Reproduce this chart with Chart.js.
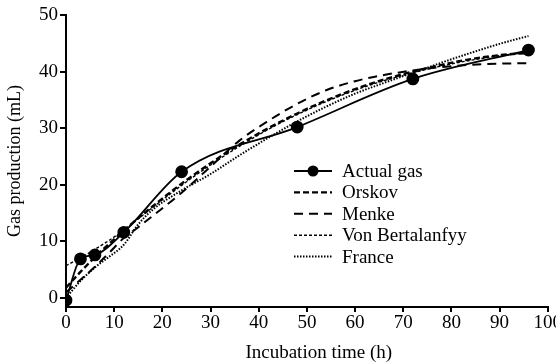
<!DOCTYPE html>
<html>
<head>
<meta charset="utf-8">
<script src="https://cdn.jsdelivr.net/npm/chart.js@4.4.1/dist/chart.umd.min.js"></script>
<style>
  html, body { margin: 0; padding: 0; background: #fff; overflow: hidden; }
  #wrap { width: 556px; height: 364px; overflow: hidden; }
</style>
</head>
<body>
<div id="wrap"><canvas id="gasChart" width="562" height="364"></canvas></div>
<script>
// measured gas production
const actualTime = [0, 3, 6, 12, 24, 48, 72, 96];
const actualGas = [-0.4, 6.9, 7.6, 11.6, 22.3, 30.2, 38.7, 43.8];

// fitted model curves
const modelTime = [0, 3, 6, 9, 12, 15, 18, 24, 30, 36, 42, 48, 54, 60, 66, 72, 78, 84, 90, 96];
const orskov = [1.8, 4.6, 7.2, 9.6, 11.9, 14.1, 16.2, 20.2, 23.8, 27.1, 30.0, 32.6, 34.9, 36.9, 38.6, 40.0, 41.2, 42.2, 42.9, 43.3];
const menke = [1.0, 3.2, 5.5, 8.0, 10.6, 12.5, 14.5, 18.6, 23.2, 27.8, 31.3, 34.3, 36.7, 38.3, 39.4, 40.2, 40.8, 41.2, 41.4, 41.5];
const vonBertalanffy = [5.7, 7.1, 8.6, 10.2, 12.0, 14.0, 16.0, 19.9, 23.5, 26.8, 29.8, 32.4, 34.7, 36.7, 38.4, 39.8, 41.0, 42.0, 42.8, 43.4];
const france = [0.0, 3.0, 5.4, 7.3, 9.4, 13.0, 15.6, 19.0, 21.9, 25.2, 28.3, 31.2, 33.8, 36.1, 38.0, 39.8, 41.6, 43.3, 44.9, 46.3];

const xTicks = [0, 10, 20, 30, 40, 50, 60, 70, 80, 90, 100];
const yTicks = [0, 10, 20, 30, 40, 50];

const serif = "'Liberation Serif', 'DejaVu Serif', serif";

function pairs(xs, ys) {
  return xs.map((x, i) => ({ x: x, y: ys[i] }));
}

function modelSet(label, values, dash, width) {
  return {
    label: label,
    data: pairs(modelTime, values),
    borderColor: '#000',
    borderWidth: width,
    borderDash: dash,
    pointRadius: 0,
    fill: false,
    cubicInterpolationMode: 'monotone'
  };
}

// legend drawn inside the plot, right of centre
const innerLegend = {
  id: 'innerLegend',
  afterDraw(chart) {
    const ctx = chart.ctx;
    const x0 = 294, x1 = 332, tx = 342;
    let y = 171;
    chart.data.datasets.forEach(ds => {
      ctx.save();
      ctx.strokeStyle = '#000';
      ctx.lineWidth = ds.borderWidth;
      ctx.setLineDash(ds.borderDash || []);
      ctx.beginPath();
      ctx.moveTo(x0, y);
      ctx.lineTo(x1, y);
      ctx.stroke();
      if (ds.pointRadius > 0) {
        ctx.setLineDash([]);
        ctx.fillStyle = '#000';
        ctx.beginPath();
        ctx.arc((x0 + x1) / 2, y, ds.pointRadius, 0, Math.PI * 2);
        ctx.fill();
      }
      ctx.fillStyle = '#000';
      ctx.font = '19px ' + serif;
      ctx.textBaseline = 'middle';
      ctx.fillText(ds.label, tx, y + 1);
      ctx.restore();
      y += 21.4;
    });
  }
};

new Chart(document.getElementById('gasChart'), {
  type: 'line',
  data: {
    datasets: [
      {
        label: 'Actual gas',
        data: pairs(actualTime, actualGas),
        borderColor: '#000',
        backgroundColor: '#000',
        borderWidth: 1.8,
        pointRadius: 5.5,
        pointHoverRadius: 5.5,
        cubicInterpolationMode: 'monotone',
        fill: false
      },
      modelSet('Orskov', orskov, [6, 3], 2.4),
      modelSet('Menke', menke, [9, 6], 2),
      modelSet('Von Bertalanfyy', vonBertalanffy, [3, 2], 1.4),
      modelSet('France', france, [1.5, 1.5], 2)
    ]
  },
  options: {
    responsive: false,
    animation: false,
    layout: { padding: { top: 15, right: 0, left: 0, bottom: 0 } },
    plugins: {
      legend: { display: false },
      tooltip: { enabled: false }
    },
    scales: {
      x: {
        type: 'linear',
        min: 0,
        max: 100,
        afterBuildTicks: axis => { axis.ticks = xTicks.map(v => ({ value: v })); },
        afterFit: axis => { axis.height = 57; },
        border: { display: true, color: '#000', width: 2 },
        grid: { drawOnChartArea: false, drawTicks: true, tickLength: 5, color: '#000', lineWidth: 2 },
        ticks: { color: '#000', font: { family: serif, size: 19 }, padding: 0, maxRotation: 0, autoSkip: false },
        title: { display: true, text: '     Incubation time (h)', color: '#000', font: { family: serif, size: 19 }, padding: { top: 0, bottom: 0 } }
      },
      y: {
        min: -1.6,
        max: 50,
        afterBuildTicks: axis => { axis.ticks = yTicks.map(v => ({ value: v })); },
        afterFit: axis => { axis.width = 66; },
        border: { display: true, color: '#000', width: 2 },
        grid: { drawOnChartArea: false, drawTicks: true, tickLength: 6, color: '#000', lineWidth: 2 },
        ticks: { color: '#000', font: { family: serif, size: 19 }, padding: 2 },
        title: { display: true, text: 'Gas production (mL)', color: '#000', font: { family: serif, size: 18 }, padding: { top: 4, bottom: 0 } }
      }
    }
  },
  plugins: [innerLegend]
});
</script>
</body>
</html>
